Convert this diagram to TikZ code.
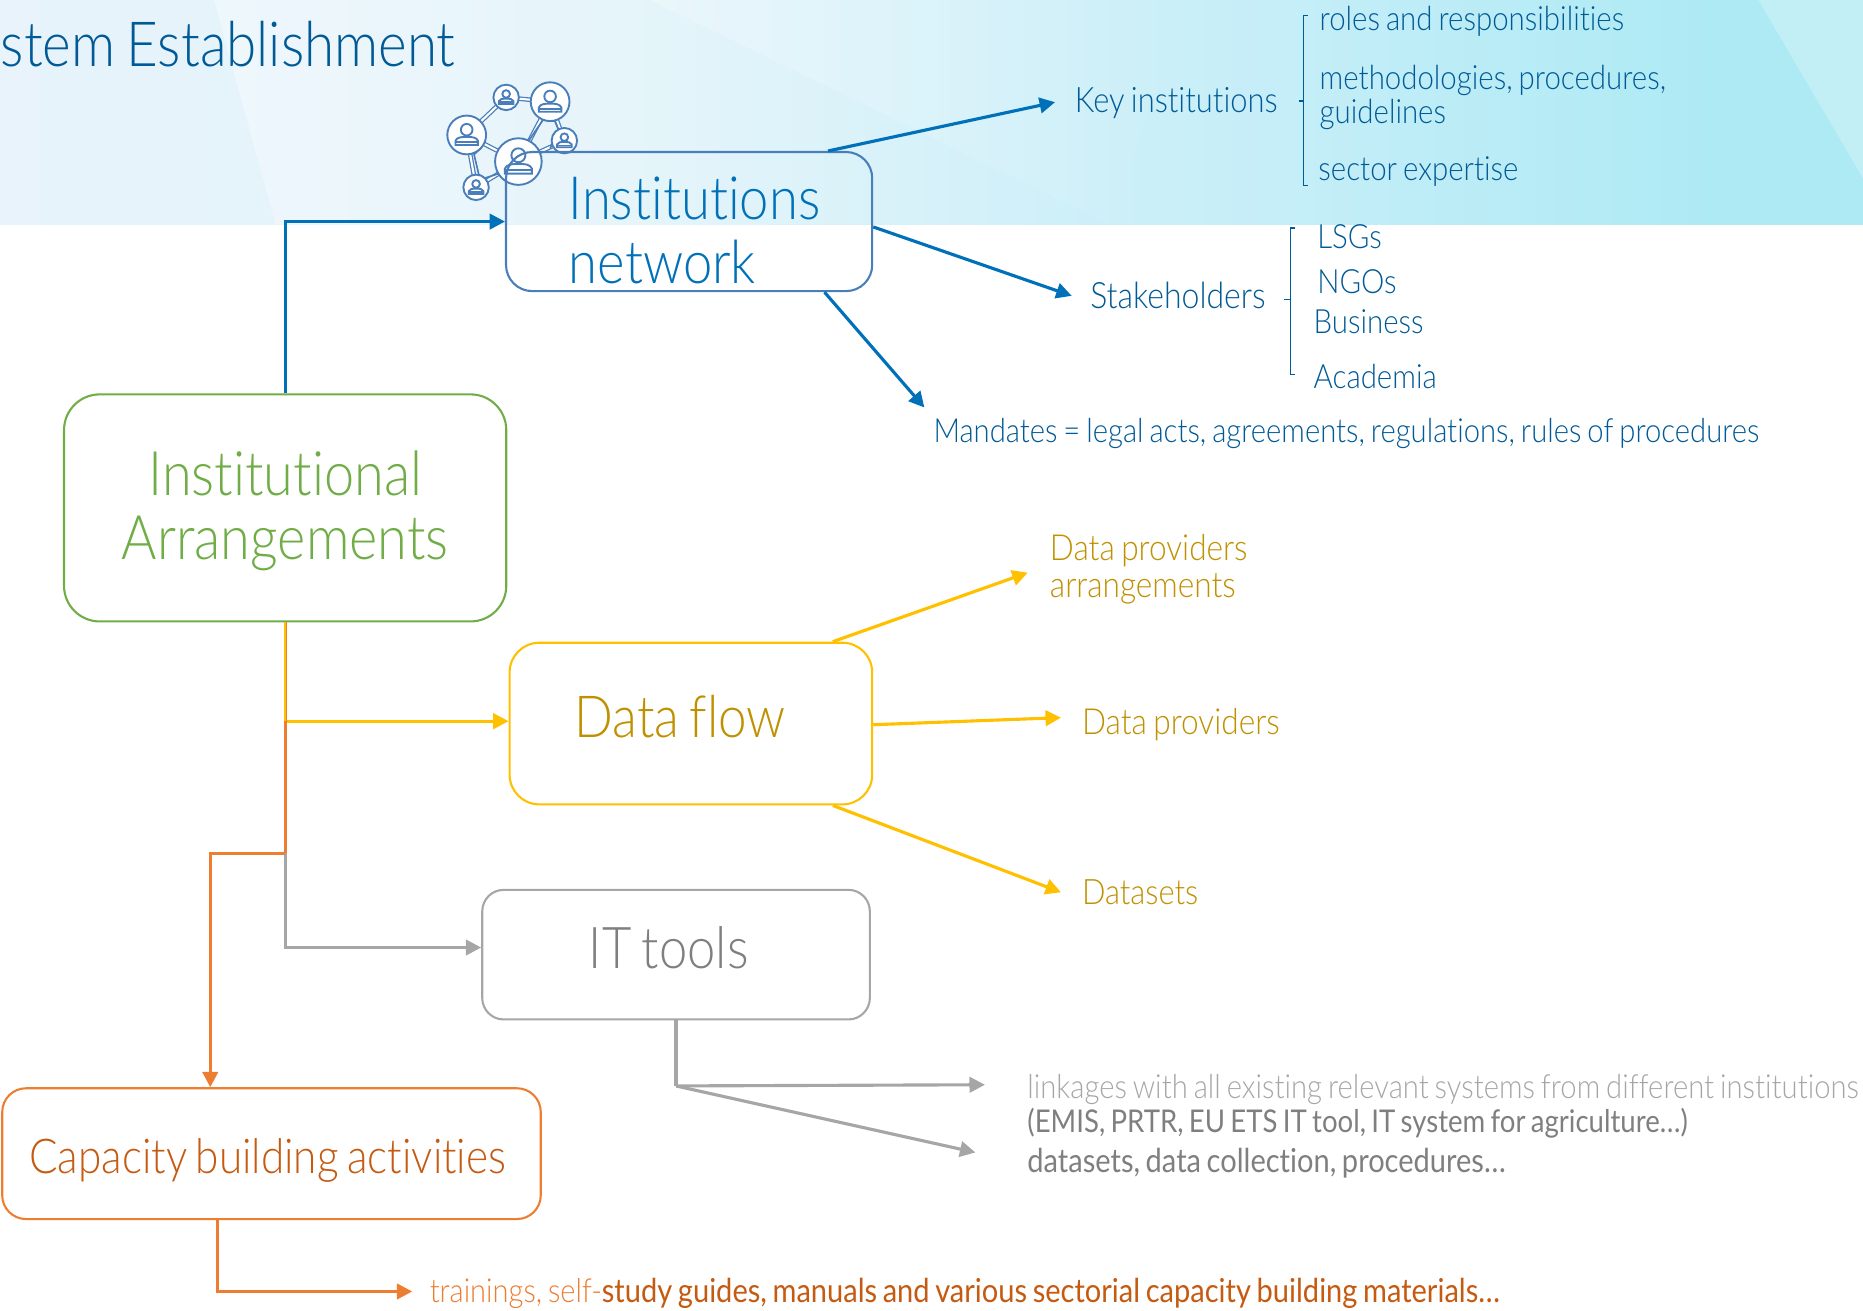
\documentclass[tikz,border=0pt]{standalone}
\usepackage{fontspec}
\setmainfont{Lato}[UprightFont=* Light, FakeStretch=0.88, WordSpace=0.75, Ligatures=NoCommon]
\newfontfamily\midfont{Lato}[FakeStretch=0.88, WordSpace=0.75, Ligatures=NoCommon]
\usetikzlibrary{arrows.meta, fadings}

\definecolor{netblue}{HTML}{0070B8}
\definecolor{navyblue}{HTML}{005A96}
\definecolor{edgeblue}{HTML}{4A7EBB}
\definecolor{leafgreen}{HTML}{70AD47}
\definecolor{sunyellow}{HTML}{FFC000}
\definecolor{darkyellow}{HTML}{BF9000}
\definecolor{midgray}{HTML}{A6A6A6}
\definecolor{textgray}{HTML}{7F7F7F}
\definecolor{burnt}{HTML}{ED7D31}
\definecolor{darkburnt}{HTML}{C55A11}
\definecolor{banda}{HTML}{E8F3FB}
\definecolor{bandb}{HTML}{E0F3FA}
\definecolor{bandc}{HTML}{C6EEF8}
\definecolor{bandd}{HTML}{AEEAF4}

\pgfdeclarehorizontalshading{bandshade}{100bp}{
  color(0bp)=(banda);
  color(25bp)=(banda);
  color(42bp)=(bandb);
  color(59bp)=(bandc);
  color(71bp)=(bandd);
  color(100bp)=(bandd)}

\tikzset{
  bigbox/.style={draw, rounded corners=#1, line width=0.5pt, inner sep=0pt},
  flowline/.style={line width=0.75pt, -{Triangle[length=0.13cm,width=0.13cm]}},
  plainlabel/.style={anchor=west, inner sep=0pt, align=left, font=\fontsize{8}{8}\selectfont},
  bigtext/.style={inner sep=0pt, align=left, font=\fontsize{#1}{15.4}\selectfont},
  netcircle/.style={circle, draw=edgeblue, fill=white, line width=0.45pt, inner sep=0pt},
  netlink/.style={draw=edgeblue, line width=0.3pt, double=white, double distance=0.5pt},
  bracketline/.style={navyblue, line width=0.35pt}
}

\newcommand{\netperson}[3]{
  \node[netcircle, minimum size=#3*0.02cm] (#1) at (#2) {};
  \begin{scope}[shift={(#1)}, scale=#3, edgeblue, line width=0.45pt]
    \draw (0,-0.27) circle [radius=0.3];
    \draw (-0.58,0.52) -- (-0.58,0.3) .. controls (-0.5,0.12) and (-0.3,0.1) .. (0,0.1)
      .. controls (0.3,0.1) and (0.5,0.12) .. (0.58,0.3) -- (0.58,0.52) -- cycle;
    \draw (-0.58,0.38) -- (0.58,0.38);
  \end{scope}
}

\begin{document}
\begin{tikzpicture}[x=0.01cm, y=-0.01cm]

    \useasboundingbox (0,0) rectangle (1568,1103.4);

    % header band
    \shade[shading=bandshade] (0,0) rectangle (1568,189);
    \fill[white, opacity=0.35, path fading=east] (180,0) -- (547,0) -- (934,189) -- (232,189) -- cycle;
    \fill[white, opacity=0.35, path fading=east] (547,0) -- (1000,0) -- (934,189) -- cycle;
    \fill[white, opacity=0.25] (1480,0) -- (1568,0) -- (1568,150) -- cycle;

    \node[plainlabel, text=navyblue, font=\fontsize{14.9}{16}\selectfont] (title) at (0,37) {stem Establishment};

    % network icon
    \coordinate (ptA) at (426,82);
    \coordinate (ptB) at (463,85.6);
    \coordinate (ptC) at (392.8,113.6);
    \coordinate (ptD) at (436.3,136);
    \coordinate (ptE) at (475,118.4);
    \coordinate (ptF) at (400.7,157.7);
    \foreach \a/\b in {ptA/ptB, ptA/ptC, ptB/ptE, ptB/ptD, ptC/ptD, ptC/ptF, ptD/ptF, ptD/ptE}
        \draw[netlink] (\a) -- (\b);
    \draw[edgeblue, line width=0.4pt] (444.6,119) -- (457,101) -- (467,102) -- (470,109) -- (463,125);
    \draw[edgeblue, line width=0.4pt] (405.4,124) -- (399,130) -- (403,147) -- (408,150) -- (420,146);
    \netperson{netA}{ptA}{10.7}
    \netperson{netB}{ptB}{16.3}
    \netperson{netC}{ptC}{16.3}
    \netperson{netE}{ptE}{10.7}
    \netperson{netF}{ptF}{10.7}
    \netperson{netD}{ptD}{19.6}

    % main boxes
    \node[bigbox=0.22cm, draw=edgeblue, minimum width=3.08cm, minimum height=1.17cm] (netbox) at (580,186.5) {};
    \node[bigtext=14.3, anchor=west, text=netblue] (nettext) at (478,194) {Institutions\\network};

    \node[bigbox=0.3cm, draw=leafgreen, minimum width=3.72cm, minimum height=1.91cm] (arrbox) at (240,427.5) {};
    \node[bigtext=14.7, text=leafgreen, align=center] (arrtext) at (240,430) {Institutional\\Arrangements};

    \node[bigbox=0.25cm, draw=sunyellow, minimum width=3.05cm, minimum height=1.36cm] (flowbox) at (581.5,609) {};
    \node[bigtext=13.9, anchor=west, text=darkyellow] (flowtext) at (483,603) {Data flow};

    \node[bigbox=0.18cm, draw=midgray, minimum width=3.26cm, minimum height=1.09cm] (itbox) at (569,803.5) {};
    \node[bigtext=13.8, anchor=west, text=textgray] (ittext) at (495,798) {IT tools};

    \node[bigbox=0.2cm, draw=burnt, minimum width=4.53cm, minimum height=1.1cm] (capbox) at (228.5,971) {};
    \node[bigtext=11.5, anchor=west, text=darkburnt] (captext) at (24,977) {Capacity building activities};

    % blue branch
    \node[plainlabel, text=navyblue, font=\fontsize{8.4}{9}\selectfont] (keyinst) at (904,87) {Key institutions};
    \node[plainlabel, text=navyblue] (roles) at (1110,18) {roles and responsibilities};
    \node[plainlabel, text=navyblue] (method) at (1110,82) {methodologies, procedures,\\guidelines};
    \node[plainlabel, text=navyblue] (sector) at (1109,144) {sector expertise};
    \node[plainlabel, text=navyblue, font=\fontsize{8.7}{9}\selectfont] (stake) at (917,249) {Stakeholders};
    \node[plainlabel, text=navyblue] (lsgs) at (1108,199) {LSGs};
    \node[plainlabel, text=navyblue] (ngos) at (1108,237) {NGOs};
    \node[plainlabel, text=navyblue] (business) at (1105,271) {Business};
    \node[plainlabel, text=navyblue] (academia) at (1105,317) {Academia};
    \node[plainlabel, text=navyblue, font=\fontsize{7.95}{8}\selectfont] (mandates) at (785,365) {Mandates = legal acts, agreements, regulations, rules of procedures};

    \draw[flowline, netblue] (arrbox.north) |- (netbox.west);
    \draw[flowline, netblue] ([xshift=-0.38cm]netbox.north east) -- ([xshift=-0.16cm,yshift=0.01cm]keyinst.west);
    \draw[flowline, netblue] ([yshift=-0.045cm]netbox.east) -- ([xshift=-0.15cm]stake.west);
    \draw[flowline, netblue] ([xshift=-0.41cm]netbox.south east) -- ([xshift=-0.07cm,yshift=0.22cm]mandates.west);

    \draw[bracketline] (1101,13) -- (1097,13) -- (1097,156) -- (1101,156);
    \draw[bracketline] (1093,85) -- (1097,85);
    \draw[bracketline] (1090,192) -- (1086,192) -- (1086,315) -- (1090,315);
    \draw[bracketline] (1081,252) -- (1086,252);

    % yellow branch
    \node[plainlabel, text=darkyellow, font=\fontsize{8.6}{9}\selectfont] (arrange) at (883,479) {Data providers\\arrangements};
    \node[plainlabel, text=darkyellow, font=\fontsize{8.6}{9}\selectfont] (provide) at (910,610) {Data providers};
    \node[plainlabel, text=darkyellow, font=\fontsize{8.4}{9}\selectfont] (datasets) at (910,751) {Datasets};

    \draw[flowline, sunyellow] ([yshift=0.02cm]flowbox.west -| arrbox.south) -- ([yshift=0.02cm]flowbox.west);
    \draw[flowline, sunyellow] ([xshift=-0.34cm]flowbox.north east) -- ([xshift=-0.18cm,yshift=-0.03cm]arrange.west);
    \draw[flowline, sunyellow] ([yshift=-0.01cm]flowbox.east) -- ([xshift=-0.17cm,yshift=0.06cm]provide.west);
    \draw[flowline, sunyellow] ([xshift=-0.34cm]flowbox.south east) -- ([xshift=-0.17cm]datasets.west);

    % gray branch
    \node[plainlabel, text=midgray, font=\fontsize{7.95}{8}\selectfont] (linkage) at (864,917) {linkages with all existing relevant systems from different institutions};
    \node[plainlabel, text=textgray, font=\fontsize{7.5}{8}\midfont] (emis) at (864,945) {(EMIS, PRTR, EU ETS IT tool, IT system for agriculture\dots)};
    \node[plainlabel, text=textgray, font=\fontsize{7.9}{8}\midfont] (collect) at (864,979) {datasets, data collection, procedures\dots};
    \coordinate (itsplit) at (569,914);

    \draw[flowline, midgray] (arrbox.south) |- ([yshift=0.06cm]itbox.west);
    \draw[midgray, line width=0.75pt] (itbox.south) -- (itsplit);
    \draw[flowline, midgray] (itsplit) -- ([xshift=-0.35cm,yshift=0.04cm]linkage.west);
    \draw[flowline, midgray] (itsplit) -- ([xshift=-0.43cm,yshift=0.09cm]collect.west);

    % orange branch
    \node[plainlabel, text=darkburnt, font=\fontsize{7.9}{8}\midfont] (trainings) at (361,1089) {{\color{burnt}\normalfont\fontsize{7.9}{8}\selectfont trainings, self-}study guides, manuals and various sectorial capacity building materials\dots};
    \coordinate (capbend) at (240,718);

    \draw[burnt, line width=0.75pt] (arrbox.south) -- (capbend);
    \draw[sunyellow, line width=0.5pt] (arrbox.south) -- ([yshift=0.02cm]flowbox.west -| arrbox.south);
    \draw[flowline, burnt] (capbend) -| ([xshift=-0.515cm]capbox.north);
    \draw[flowline, burnt] ([xshift=-0.455cm]capbox.south) |- ([xshift=-0.14cm,yshift=0.02cm]trainings.west);

\end{tikzpicture}
\end{document}
